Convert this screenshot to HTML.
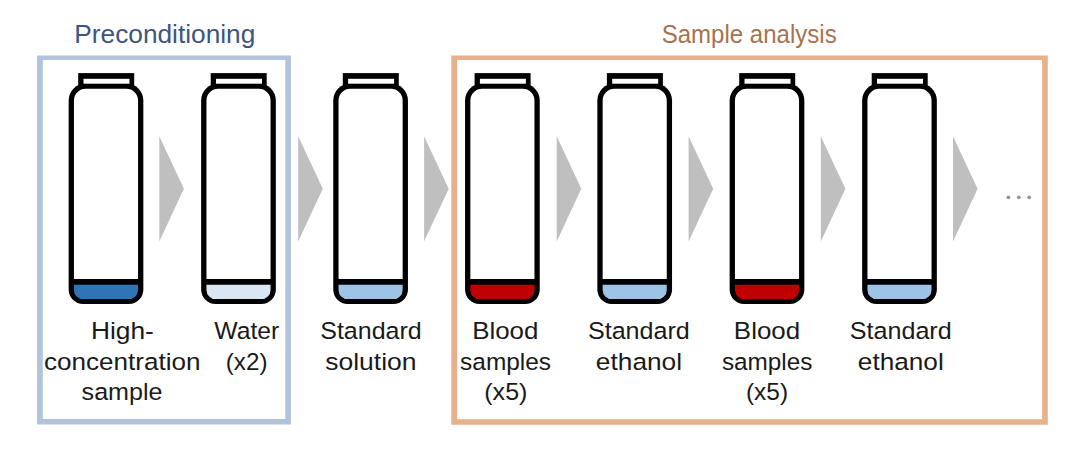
<!DOCTYPE html>
<html><head><meta charset="utf-8"><title>Vial sequence</title>
<style>
html,body{margin:0;padding:0;background:#fff;}
body{width:1087px;height:461px;overflow:hidden;}
svg{display:block;font-family:"Liberation Sans",sans-serif;}
</style></head><body>
<svg width="1087" height="461" viewBox="0 0 1087 461">
<rect width="1087" height="461" fill="#fff"/>
<path d="M37.0,55.4 H290.9 V424.6 H37.0 Z M42.8,60.0 V419.0 H285.3 V60.0 Z" fill="#B2C3DD" fill-rule="evenodd"/>
<path d="M451.3,55.5 H1047.8 V424.7 H451.3 Z M457.1,60.0 V419.2 H1042.1 V60.0 Z" fill="#E7B18C" fill-rule="evenodd"/>
<polygon points="159.30,136.2 183.90,188.8 159.30,241.6" fill="#BFBFBF"/>
<polygon points="298.20,136.2 322.80,188.8 298.20,241.6" fill="#BFBFBF"/>
<polygon points="424.10,136.2 448.70,188.8 424.10,241.6" fill="#BFBFBF"/>
<polygon points="556.70,136.2 581.30,188.8 556.70,241.6" fill="#BFBFBF"/>
<polygon points="688.60,136.2 713.20,188.8 688.60,241.6" fill="#BFBFBF"/>
<polygon points="820.80,136.2 845.40,188.8 820.80,241.6" fill="#BFBFBF"/>
<polygon points="953.00,136.2 977.60,188.8 953.00,241.6" fill="#BFBFBF"/>
<circle cx="1008.4" cy="197.3" r="1.9" fill="#959595"/>
<circle cx="1018.8" cy="197.3" r="1.9" fill="#959595"/>
<circle cx="1029.2" cy="197.3" r="1.9" fill="#959595"/>
<path d="M68.65,100.40 A17.00,17.00 0 0 1 85.65,83.40 H126.35 A17.00,17.00 0 0 1 143.35,100.40 V289.40 A14.50,14.50 0 0 1 128.85,303.90 H83.15 A14.50,14.50 0 0 1 68.65,289.40 Z" fill="#000"/>
<path d="M73.95,100.50 A11.70,11.70 0 0 1 85.65,88.80 H126.35 A11.70,11.70 0 0 1 138.05,100.50 V279.09 A0.01,0.01 0 0 1 138.04,279.10 H73.96 A0.01,0.01 0 0 1 73.95,279.09 Z" fill="#fff"/>
<path d="M73.95,284.70 H138.05 V289.90 A9.20,9.20 0 0 1 128.85,299.10 H83.15 A9.20,9.20 0 0 1 73.95,289.90 Z" fill="#2E75B6"/>
<rect x="78.20" y="73.1" width="56.0" height="13" fill="#000"/>
<rect x="83.50" y="78.8" width="46.0" height="4.9" fill="#fff"/>
<path d="M201.15,100.40 A17.00,17.00 0 0 1 218.15,83.40 H258.85 A17.00,17.00 0 0 1 275.85,100.40 V289.40 A14.50,14.50 0 0 1 261.35,303.90 H215.65 A14.50,14.50 0 0 1 201.15,289.40 Z" fill="#000"/>
<path d="M206.45,100.50 A11.70,11.70 0 0 1 218.15,88.80 H258.85 A11.70,11.70 0 0 1 270.55,100.50 V279.09 A0.01,0.01 0 0 1 270.54,279.10 H206.46 A0.01,0.01 0 0 1 206.45,279.09 Z" fill="#fff"/>
<path d="M206.45,284.70 H270.55 V289.90 A9.20,9.20 0 0 1 261.35,299.10 H215.65 A9.20,9.20 0 0 1 206.45,289.90 Z" fill="#DBE6F4"/>
<rect x="210.70" y="73.1" width="56.0" height="13" fill="#000"/>
<rect x="216.00" y="78.8" width="46.0" height="4.9" fill="#fff"/>
<path d="M333.25,100.40 A17.00,17.00 0 0 1 350.25,83.40 H390.95 A17.00,17.00 0 0 1 407.95,100.40 V289.40 A14.50,14.50 0 0 1 393.45,303.90 H347.75 A14.50,14.50 0 0 1 333.25,289.40 Z" fill="#000"/>
<path d="M338.55,100.50 A11.70,11.70 0 0 1 350.25,88.80 H390.95 A11.70,11.70 0 0 1 402.65,100.50 V279.09 A0.01,0.01 0 0 1 402.64,279.10 H338.56 A0.01,0.01 0 0 1 338.55,279.09 Z" fill="#fff"/>
<path d="M338.55,284.70 H402.65 V289.90 A9.20,9.20 0 0 1 393.45,299.10 H347.75 A9.20,9.20 0 0 1 338.55,289.90 Z" fill="#9DC3E6"/>
<rect x="342.80" y="73.1" width="56.0" height="13" fill="#000"/>
<rect x="348.10" y="78.8" width="46.0" height="4.9" fill="#fff"/>
<path d="M465.05,100.40 A17.00,17.00 0 0 1 482.05,83.40 H522.75 A17.00,17.00 0 0 1 539.75,100.40 V289.40 A14.50,14.50 0 0 1 525.25,303.90 H479.55 A14.50,14.50 0 0 1 465.05,289.40 Z" fill="#000"/>
<path d="M470.35,100.50 A11.70,11.70 0 0 1 482.05,88.80 H522.75 A11.70,11.70 0 0 1 534.45,100.50 V279.09 A0.01,0.01 0 0 1 534.44,279.10 H470.36 A0.01,0.01 0 0 1 470.35,279.09 Z" fill="#fff"/>
<path d="M470.35,284.70 H534.45 V289.90 A9.20,9.20 0 0 1 525.25,299.10 H479.55 A9.20,9.20 0 0 1 470.35,289.90 Z" fill="#C00000"/>
<rect x="474.60" y="73.1" width="56.0" height="13" fill="#000"/>
<rect x="479.90" y="78.8" width="46.0" height="4.9" fill="#fff"/>
<path d="M597.35,100.40 A17.00,17.00 0 0 1 614.35,83.40 H655.05 A17.00,17.00 0 0 1 672.05,100.40 V289.40 A14.50,14.50 0 0 1 657.55,303.90 H611.85 A14.50,14.50 0 0 1 597.35,289.40 Z" fill="#000"/>
<path d="M602.65,100.50 A11.70,11.70 0 0 1 614.35,88.80 H655.05 A11.70,11.70 0 0 1 666.75,100.50 V279.09 A0.01,0.01 0 0 1 666.74,279.10 H602.66 A0.01,0.01 0 0 1 602.65,279.09 Z" fill="#fff"/>
<path d="M602.65,284.70 H666.75 V289.90 A9.20,9.20 0 0 1 657.55,299.10 H611.85 A9.20,9.20 0 0 1 602.65,289.90 Z" fill="#9DC3E6"/>
<rect x="606.90" y="73.1" width="56.0" height="13" fill="#000"/>
<rect x="612.20" y="78.8" width="46.0" height="4.9" fill="#fff"/>
<path d="M729.65,100.40 A17.00,17.00 0 0 1 746.65,83.40 H787.35 A17.00,17.00 0 0 1 804.35,100.40 V289.40 A14.50,14.50 0 0 1 789.85,303.90 H744.15 A14.50,14.50 0 0 1 729.65,289.40 Z" fill="#000"/>
<path d="M734.95,100.50 A11.70,11.70 0 0 1 746.65,88.80 H787.35 A11.70,11.70 0 0 1 799.05,100.50 V279.09 A0.01,0.01 0 0 1 799.04,279.10 H734.96 A0.01,0.01 0 0 1 734.95,279.09 Z" fill="#fff"/>
<path d="M734.95,284.70 H799.05 V289.90 A9.20,9.20 0 0 1 789.85,299.10 H744.15 A9.20,9.20 0 0 1 734.95,289.90 Z" fill="#C00000"/>
<rect x="739.20" y="73.1" width="56.0" height="13" fill="#000"/>
<rect x="744.50" y="78.8" width="46.0" height="4.9" fill="#fff"/>
<path d="M862.15,100.40 A17.00,17.00 0 0 1 879.15,83.40 H919.85 A17.00,17.00 0 0 1 936.85,100.40 V289.40 A14.50,14.50 0 0 1 922.35,303.90 H876.65 A14.50,14.50 0 0 1 862.15,289.40 Z" fill="#000"/>
<path d="M867.45,100.50 A11.70,11.70 0 0 1 879.15,88.80 H919.85 A11.70,11.70 0 0 1 931.55,100.50 V279.09 A0.01,0.01 0 0 1 931.54,279.10 H867.46 A0.01,0.01 0 0 1 867.45,279.09 Z" fill="#fff"/>
<path d="M867.45,284.70 H931.55 V289.90 A9.20,9.20 0 0 1 922.35,299.10 H876.65 A9.20,9.20 0 0 1 867.45,289.90 Z" fill="#9DC3E6"/>
<rect x="871.70" y="73.1" width="56.0" height="13" fill="#000"/>
<rect x="877.00" y="78.8" width="46.0" height="4.9" fill="#fff"/>
<text x="74.35" y="42.70" font-size="25.6" fill="#3E5580" textLength="180.94" lengthAdjust="spacingAndGlyphs">Preconditioning</text>
<text x="661.71" y="42.70" font-size="25.6" fill="#A87250" textLength="174.96" lengthAdjust="spacingAndGlyphs">Sample analysis</text>
<text x="90.94" y="339.00" font-size="24.5" fill="#1A1A1A" textLength="62.93" lengthAdjust="spacingAndGlyphs">High-</text>
<text x="44.09" y="369.50" font-size="24.5" fill="#1A1A1A" textLength="156.40" lengthAdjust="spacingAndGlyphs">concentration</text>
<text x="81.60" y="400.40" font-size="24.5" fill="#1A1A1A" textLength="80.91" lengthAdjust="spacingAndGlyphs">sample</text>
<text x="214.29" y="339.00" font-size="24.5" fill="#1A1A1A" textLength="65.01" lengthAdjust="spacingAndGlyphs">Water</text>
<text x="225.80" y="369.50" font-size="24.5" fill="#1A1A1A" textLength="41.70" lengthAdjust="spacingAndGlyphs">(x2)</text>
<text x="320.26" y="339.00" font-size="24.5" fill="#1A1A1A" textLength="101.45" lengthAdjust="spacingAndGlyphs">Standard</text>
<text x="325.16" y="369.50" font-size="24.5" fill="#1A1A1A" textLength="91.36" lengthAdjust="spacingAndGlyphs">solution</text>
<text x="472.17" y="339.00" font-size="24.5" fill="#1A1A1A" textLength="66.30" lengthAdjust="spacingAndGlyphs">Blood</text>
<text x="460.12" y="369.50" font-size="24.5" fill="#1A1A1A" textLength="90.96" lengthAdjust="spacingAndGlyphs">samples</text>
<text x="484.24" y="400.40" font-size="24.5" fill="#1A1A1A" textLength="43.21" lengthAdjust="spacingAndGlyphs">(x5)</text>
<text x="587.96" y="339.00" font-size="24.5" fill="#1A1A1A" textLength="101.86" lengthAdjust="spacingAndGlyphs">Standard</text>
<text x="595.88" y="369.50" font-size="24.5" fill="#1A1A1A" textLength="86.17" lengthAdjust="spacingAndGlyphs">ethanol</text>
<text x="733.87" y="339.00" font-size="24.5" fill="#1A1A1A" textLength="66.30" lengthAdjust="spacingAndGlyphs">Blood</text>
<text x="721.92" y="369.50" font-size="24.5" fill="#1A1A1A" textLength="90.45" lengthAdjust="spacingAndGlyphs">samples</text>
<text x="745.98" y="400.40" font-size="24.5" fill="#1A1A1A" textLength="42.13" lengthAdjust="spacingAndGlyphs">(x5)</text>
<text x="849.76" y="339.00" font-size="24.5" fill="#1A1A1A" textLength="101.96" lengthAdjust="spacingAndGlyphs">Standard</text>
<text x="857.89" y="369.50" font-size="24.5" fill="#1A1A1A" textLength="85.86" lengthAdjust="spacingAndGlyphs">ethanol</text>
</svg>
</body></html>
